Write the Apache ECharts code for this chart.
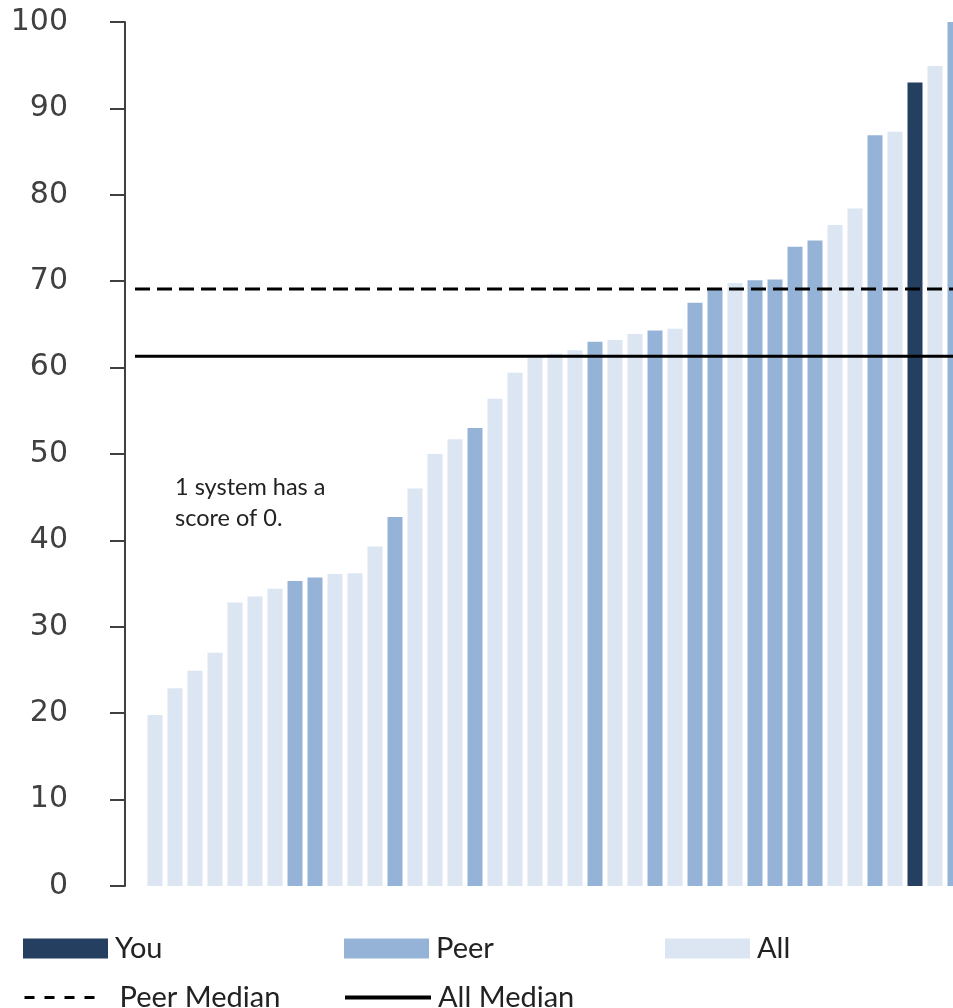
<!DOCTYPE html>
<html>
<head>
<meta charset="utf-8">
<script src="https://cdn.jsdelivr.net/npm/echarts@6/dist/echarts.min.js"></script>
<style>
  html, body { margin: 0; padding: 0; background: #ffffff; overflow: hidden; }
  #chart { width: 953px; height: 1008px; }
</style>
</head>
<body>
<div id="chart"></div>
<script>
// Systems sorted by score; each system belongs to exactly one group.
const systems = ['S0','S1','S2','S3','S4','S5','S6','S7','S8','S9','S10','S11','S12','S13',
  'S14','S15','S16','S17','S18','S19','S20','S21','S22','S23','S24','S25','S26','S27',
  'S28','S29','S30','S31','S32','S33','S34','S35','S36','S37','S38','S39','S40','S41'];
const scores = [0, 19.8, 22.9, 24.9, 27.0, 32.8, 33.5, 34.4, 35.3, 35.7, 36.1, 36.2, 39.3, 42.7,
  46.0, 50.0, 51.7, 53.0, 56.4, 59.4, 61.2, 61.6, 62.0, 63.0, 63.2, 63.9, 64.3, 64.5,
  67.5, 69.1, 69.8, 70.1, 70.2, 74.0, 74.7, 76.5, 78.4, 86.9, 87.3, 93.0, 94.9, 100];
const groups = ['All','All','All','All','All','All','All','All','Peer','Peer','All','All','All','Peer',
  'All','All','All','Peer','All','All','All','All','All','Peer','All','All','Peer','All',
  'Peer','Peer','All','Peer','Peer','Peer','Peer','All','All','Peer','All','You','All','Peer'];
const peerMedian = 69.1;
const allMedian = 61.3;
const yTicks = [0, 10, 20, 30, 40, 50, 60, 70, 80, 90, 100];
const note = '1 system has a\nscore of 0.';

const colors = { You: '#243F60', Peer: '#95B3D7', All: '#DCE6F2' };

// One stacked series per group; other groups' slots stay empty.
function groupData(name) {
  return scores.map((v, i) => (groups[i] === name ? v : '-'));
}

const barSeries = ['You', 'Peer', 'All'].map(name => ({
  name: name,
  type: 'bar',
  stack: 'score',
  barWidth: '75%',
  data: groupData(name),
  itemStyle: { color: colors[name] },
  emphasis: { disabled: true }
}));

const lineSeries = [
  {
    name: 'Peer Median', type: 'line', symbol: 'none', z: 5,
    data: systems.map(() => peerMedian),
    itemStyle: { color: '#000' },
    lineStyle: { color: '#000', width: 3, type: [15, 7] }
  },
  {
    name: 'All Median', type: 'line', symbol: 'none', z: 5,
    data: systems.map(() => allMedian),
    itemStyle: { color: '#000' },
    lineStyle: { color: '#000', width: 3, type: 'solid' }
  }
];

const legendText = { fontFamily: 'Lato', fontSize: 29, color: '#222', lineHeight: 22 };
function legendItem(name, left, top, extra) {
  return Object.assign({
    data: [name], left: left, top: top, padding: 0,
    itemWidth: 85, itemHeight: 20, selectedMode: false,
    textStyle: Object.assign({}, legendText, { padding: [0, 0, 0, 2] })
  }, extra || {});
}

const chart = echarts.init(document.getElementById('chart'), null, { renderer: 'canvas' });
chart.setOption({
  animation: false,
  backgroundColor: '#ffffff',
  // The plot runs past the right edge of the page, so the last bar is clipped.
  grid: { left: 125, width: 840, top: 22, bottom: 122, containLabel: false, outerBoundsMode: 'none' },
  xAxis: {
    type: 'category',
    data: systems,
    axisLine: { show: false },
    axisTick: { show: false },
    axisLabel: { show: false }
  },
  yAxis: {
    type: 'value',
    min: yTicks[0],
    max: yTicks[yTicks.length - 1],
    interval: 10,
    splitLine: { show: false },
    axisLine: { show: true, lineStyle: { color: '#404040', width: 2 } },
    axisTick: { show: true, length: 15, lineStyle: { color: '#404040', width: 2 } },
    axisLabel: {
      margin: 57,
      fontFamily: 'DejaVu Sans',
      fontSize: 30,
      color: '#404040'
    }
  },
  legend: [
    legendItem('You', 23, 934, { icon: 'rect' }),
    legendItem('Peer', 344, 934, { icon: 'rect' }),
    legendItem('All', 665, 934, { icon: 'rect' }),
    legendItem('Peer Median', 23, 983, {
      itemWidth: 77,
      itemStyle: { opacity: 0 },
      lineStyle: { width: 3, type: [10, 10] },
      textStyle: Object.assign({}, legendText, { padding: [0, 0, 0, 13] })
    }),
    legendItem('All Median', 343, 983, {
      itemWidth: 86,
      itemStyle: { opacity: 0 },
      lineStyle: { width: 4 }
    })
  ],
  graphic: [{
    type: 'text',
    left: 175,
    top: 472,
    style: {
      text: note,
      font: '23.5px Lato',
      lineHeight: 31,
      fill: '#222'
    }
  }],
  series: barSeries.concat(lineSeries)
});
</script>
</body>
</html>
